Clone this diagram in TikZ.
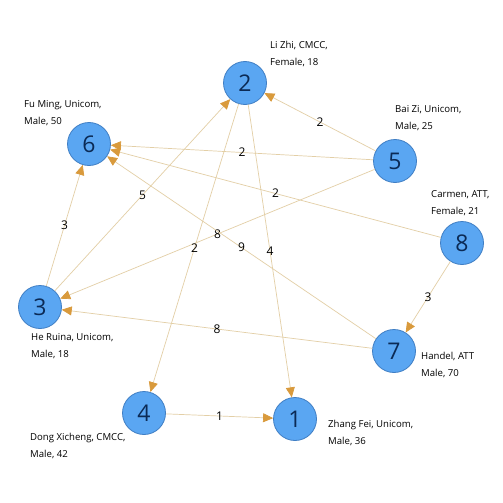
\documentclass[tikz,border=0pt]{standalone}
\usepackage{fontspec}
\setmainfont{Open Sans}
\usetikzlibrary{arrows.meta}
\definecolor{nodefill}{HTML}{5AA6F2}
\definecolor{nodeline}{HTML}{3F7EC4}
\definecolor{nodetext}{HTML}{0B2A55}
\definecolor{edgeline}{HTML}{E3CFA6}
\definecolor{edgetip}{HTML}{D99A3C}
\begin{document}
\begin{tikzpicture}[x=1pt,y=-1pt,
                    main node/.style={circle,fill=nodefill,draw=nodeline,line width=0.8pt,
                      minimum size=43pt,inner sep=0pt,text=nodetext,font=\fontsize{23}{23}\selectfont},
                    info/.style={anchor=west,align=left,inner sep=0pt,
                      font=\fontsize{9.6}{16.5}\selectfont},
                    every edge/.style={draw=edgeline,line width=0.7pt,
                      -{Triangle[length=10pt,width=9pt,color=edgetip]}},
                    weight/.style={midway,font=\fontsize{12}{12}\selectfont,inner sep=1pt}]
  \useasboundingbox[fill=white] (0,0) rectangle (503,503);
  % persons
  \node[main node] (1) at (295,419) {1};
  \node[main node] (2) at (245,83) {2};
  \node[main node] (3) at (40,307) {3};
  \node[main node] (4) at (144,413) {4};
  \node[main node] (5) at (395,161) {5};
  \node[main node] (6) at (89,144) {6};
  \node[main node] (7) at (394,351) {7};
  \node[main node] (8) at (462,243) {8};
  % descriptions
  \node[info] (l1) at (328,433) {Zhang Fei, Unicom,\\Male, 36};
  \node[info] (l2) at (270,54) {Li Zhi, CMCC,\\Female, 18};
  \node[info] (l3) at (31,346) {He Ruina, Unicom,\\Male, 18};
  \node[info] (l4) at (30,446) {Dong Xicheng, CMCC,\\Male, 42};
  \node[info] (l5) at (395,118) {Bai Zi, Unicom,\\Male, 25};
  \node[info] (l6) at (24,113) {Fu Ming, Unicom,\\Male, 50};
  \node[info] (l7) at (421,365) {Handel, ATT\\Male, 70};
  \node[info] (l8) at (431,203) {Carmen, ATT,\\Female, 21};
  % calls
  \path
    (5) edge node[weight] {2} (2)
    (5) edge node[weight] {2} (6)
    (8) edge node[weight] {2} (6)
    (5) edge node[weight] {8} (3)
    (7) edge node[weight] {9} (6)
    (3) edge node[weight] {5} (2)
    (2) edge node[weight] {2} (4)
    (2) edge node[weight] {4} (1)
    (3) edge node[weight] {3} (6)
    (8) edge node[weight] {3} (7)
    (7) edge node[weight] {8} (3)
    (4) edge node[weight] {1} (1);
\end{tikzpicture}
\end{document}
